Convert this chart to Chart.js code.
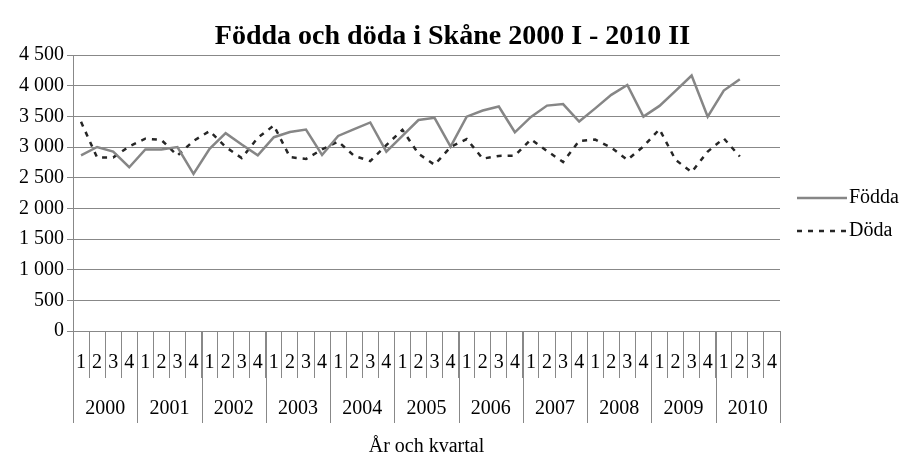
<!DOCTYPE html>
<html lang="sv">
<head>
<meta charset="utf-8">
<title>Födda och döda i Skåne</title>
<script src="https://cdn.jsdelivr.net/npm/chart.js@4.4.0/dist/chart.umd.min.js"></script>
<style>
  html, body { margin: 0; padding: 0; background: #fff; }
  #wrap { position: relative; width: 905px; height: 455px; }
</style>
</head>
<body>
<div id="wrap"><canvas id="chart"></canvas></div>
<script>
// ---------- Data (quarterly, 2000 Q1 – 2010 Q2) ----------
const years = ["2000", "2001", "2002", "2003", "2004", "2005", "2006", "2007", "2008", "2009", "2010"];
const quarters = ["1", "2", "3", "4"];
const seriesNames = ["Födda", "Döda"];
const fodda = [2865, 3000, 2925, 2670, 2960, 2960, 3000, 2560, 2970, 3225, 3040, 2865, 3160, 3245, 3285,
  2870, 3180, 3290, 3400, 2925, 3180, 3440, 3475, 3005, 3495, 3595, 3660, 3240, 3490, 3675, 3700,
  3415, 3630, 3850, 4010, 3495, 3670, 3915, 4165, 3495, 3920, 4105];
const doda = [3410, 2830, 2830, 3010, 3135, 3115, 2860, 3100, 3260, 3000, 2820, 3150, 3350, 2835, 2805,
  2960, 3090, 2855, 2770, 3030, 3280, 2890, 2710, 3000, 3130, 2810, 2855, 2860, 3125, 2935, 2755,
  3100, 3120, 2990, 2790, 3010, 3290, 2790, 2590, 2925, 3140, 2845];
const yTicks = [0, 500, 1000, 1500, 2000, 2500, 3000, 3500, 4000, 4500];
const chartTitle = "Födda och döda i Skåne 2000 I - 2010 II";
const xTitle = "År och kvartal";

const FONT = "'Liberation Serif', 'Times New Roman', serif";
const GRID = "#888888";

// one category per year/quarter pair
const categories = [];
years.forEach(y => quarters.forEach(q => categories.push(y + " " + q)));

function spaced(n) {
  return String(n).replace(/\B(?=(\d{3})+(?!\d))/g, " ");
}

// ---------- Two-level category axis + legend ----------
const kvartalAxis = {
  id: "kvartalAxis",
  afterDraw(chart) {
    const { ctx, chartArea } = chart;
    const x = chart.scales.x;
    const top = chartArea.bottom;
    const step = x.getPixelForValue(1) - x.getPixelForValue(0);
    ctx.save();
    ctx.font = "20px " + FONT;
    ctx.fillStyle = "#000";
    ctx.textAlign = "center";
    ctx.textBaseline = "middle";

    categories.forEach((c, i) => {
      ctx.fillText(quarters[i % quarters.length], x.getPixelForValue(i), top + 32);
    });

    ctx.strokeStyle = GRID;
    ctx.lineWidth = 1;
    for (let j = 0; j <= years.length; j++) {
      const px = Math.round(x.getPixelForValue(j * quarters.length) - step / 2) + 0.5;
      ctx.beginPath();
      ctx.moveTo(px, top);
      ctx.lineTo(px, top + 92);
      ctx.stroke();
    }
    years.forEach((y, j) => {
      const a = x.getPixelForValue(j * quarters.length);
      const b = x.getPixelForValue(j * quarters.length + quarters.length - 1);
      ctx.fillText(y, (a + b) / 2, top + 78);
    });

    // legend at the right
    ctx.textAlign = "left";
    chart.data.datasets.forEach((ds, k) => {
      const ly = chartArea.top + 143 + k * 33;
      const lx = chartArea.right + 17;
      ctx.save();
      ctx.strokeStyle = ds.borderColor;
      ctx.lineWidth = ds.borderWidth;
      ctx.setLineDash(ds.borderDash || []);
      ctx.beginPath();
      ctx.moveTo(lx, ly);
      ctx.lineTo(lx + 50, ly);
      ctx.stroke();
      ctx.restore();
      ctx.fillText(ds.label, lx + 52, ly);
    });
    ctx.restore();
  }
};

new Chart(document.getElementById("chart"), {
  type: "line",
  data: {
    labels: categories,
    datasets: [
      { label: seriesNames[0], data: fodda, borderColor: "#868686", borderWidth: 2.5,
        pointRadius: 0, tension: 0, fill: false },
      { label: seriesNames[1], data: doda, borderColor: "#262626", borderWidth: 2.5,
        borderDash: [5, 6], pointRadius: 0, tension: 0, fill: false }
    ]
  },
  options: {
    responsive: true,
    maintainAspectRatio: false,
    animation: false,
    devicePixelRatio: 1,
    layout: { padding: 0 },
    plugins: {
      legend: { display: false },
      tooltip: { enabled: false },
      title: {
        display: true,
        text: chartTitle,
        color: "#000",
        font: { family: FONT, size: 28, weight: "bold", lineHeight: 1.2 },
        padding: { top: 20, bottom: 1.4 }
      }
    },
    scales: {
      x: {
        offset: true,
        grid: { display: true, offset: true, drawOnChartArea: false, drawTicks: true,
                tickLength: 47, color: GRID },
        border: { display: true, color: GRID },
        ticks: { display: false },
        title: { display: true, text: xTitle, color: "#000",
                 font: { family: FONT, size: 20, lineHeight: 1 },
                 padding: { top: 59, bottom: -2 } }
      },
      y: {
        min: 0,
        max: 4500,
        afterFit: s => { s.width = 73; },
        afterBuildTicks: s => { s.ticks = yTicks.map(v => ({ value: v })); },
        grid: { color: GRID, tickLength: 6, drawTicks: true },
        border: { display: true, color: GRID },
        ticks: { color: "#000", padding: 3, font: { family: FONT, size: 20 },
                 callback: v => spaced(v) }
      },
      // empty right-hand axis that only reserves room for the legend
      legendSpace: {
        type: "linear",
        position: "right",
        display: true,
        afterFit: s => { s.width = 125; },
        grid: { display: false },
        border: { display: false },
        ticks: { display: false }
      }
    }
  },
  plugins: [kvartalAxis]
});
</script>
</body>
</html>
